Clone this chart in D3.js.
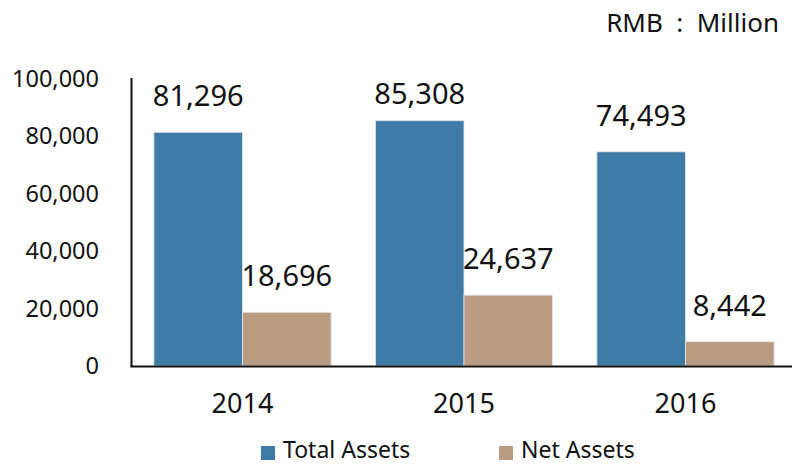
<!DOCTYPE html>
<html>
<head>
<meta charset="utf-8">
<script src="https://cdn.jsdelivr.net/npm/d3@7"></script>
<style>
  body { margin: 0; background: #fff; }
  svg text { font-family: "Noto Sans", "Open Sans", sans-serif; fill: #111; }
</style>
</head>
<body>
<div id="chart"></div>
<script>
// data
const years = ["2014", "2015", "2016"];
const seriesNames = ["Total Assets", "Net Assets"];
const totalAssets = [81296, 85308, 74493];
const netAssets = [18696, 24637, 8442];
const yTicks = [0, 20000, 40000, 60000, 80000, 100000];
const colors = ["#3e7ca7", "#b89b80"];

const width = 792, height = 464;
const svg = d3.select("#chart").append("svg")
    .attr("width", width)
    .attr("height", height);

// scales
const x = d3.scaleBand().domain(years).range([131.75, 796.25])
    .paddingInner(0.2).paddingOuter(0.1);
const xs = d3.scaleBand().domain(seriesNames).range([0, x.bandwidth()]);
const y = d3.scaleLinear().domain([0, 100000]).range([366, 78.5]);

const fmt = d3.format(",");
const rows = years.map((yr, i) => ({ year: yr, values: [totalAssets[i], netAssets[i]] }));

// y tick labels (no tick marks)
svg.append("g").selectAll("text")
    .data(yTicks).join("text")
    .attr("x", 99)
    .attr("y", d => y(d))
    .attr("dy", "0.36em")
    .attr("text-anchor", "end")
    .style("font-size", "23.5px")
    .text(d => fmt(d));

// bars
const groups = svg.append("g").selectAll("g")
    .data(rows).join("g")
    .attr("transform", d => `translate(${x(d.year)},0)`);

groups.selectAll("rect")
    .data(d => d.values.map((v, k) => ({ name: seriesNames[k], value: v, k })))
    .join("rect")
    .attr("x", d => xs(d.name))
    .attr("y", d => y(d.value))
    .attr("width", xs.bandwidth())
    .attr("height", d => y(0) - y(d.value))
    .attr("fill", d => colors[d.k])
    .attr("stroke", "#e6e6e6")
    .attr("stroke-width", 0.8);

groups.selectAll("text")
    .data(d => d.values.map((v, k) => ({ name: seriesNames[k], value: v })))
    .join("text")
    .attr("x", d => xs(d.name) + xs.bandwidth() / 2)
    .attr("y", d => Math.max(y(d.value) - 26, 104))
    .attr("text-anchor", "middle")
    .style("font-size", "29px")
    .text(d => fmt(d.value));

// axis lines
svg.append("line")
    .attr("x1", 131.5).attr("x2", 131.5)
    .attr("y1", 78).attr("y2", 367)
    .attr("stroke", "#111").attr("stroke-width", 2);
svg.append("line")
    .attr("x1", 130.5).attr("x2", width)
    .attr("y1", 366.5).attr("y2", 366.5)
    .attr("stroke", "#111").attr("stroke-width", 2);

// x tick labels
svg.append("g").selectAll("text")
    .data(years).join("text")
    .attr("x", d => x(d) + x.bandwidth() / 2)
    .attr("y", 413)
    .attr("text-anchor", "middle")
    .style("font-size", "27px")
    .text(d => d);

// unit
svg.append("text")
    .attr("x", 779).attr("y", 32)
    .attr("text-anchor", "end")
    .style("font-size", "26px")
    .style("white-space", "pre")
    .text("RMB  :  Million");

// legend
const legendX = [261, 499];
const legend = svg.append("g").selectAll("g")
    .data(seriesNames).join("g")
    .attr("transform", (d, i) => `translate(${legendX[i]},446)`);
legend.append("rect")
    .attr("width", 14).attr("height", 14)
    .attr("fill", (d, i) => colors[i]);
legend.append("text")
    .attr("x", 22).attr("y", 12)
    .style("font-size", "23px")
    .text(d => d);
</script>
</body>
</html>
